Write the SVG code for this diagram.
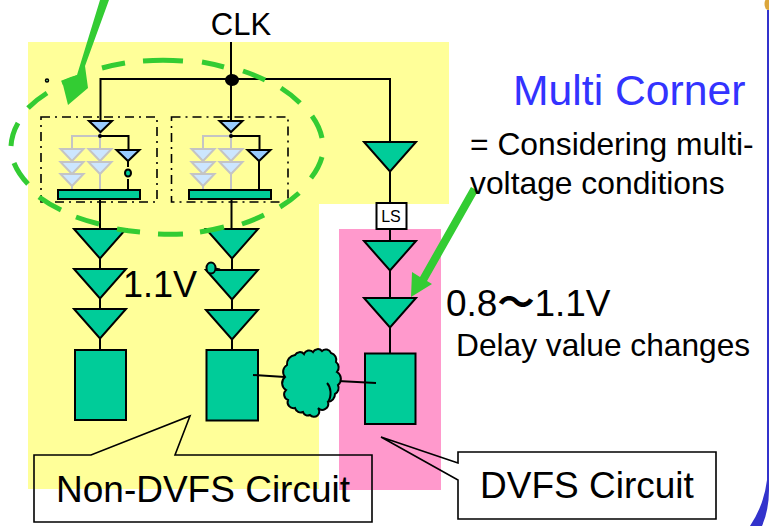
<svg xmlns="http://www.w3.org/2000/svg" width="769" height="526" viewBox="0 0 769 526">
<style>
text{font-family:"Liberation Sans","Noto Sans CJK JP",Arial,sans-serif;fill:#000}
.w{fill:none;stroke:#000;stroke-width:2}
.b{fill:#00cc99;stroke:#000;stroke-width:2;stroke-linejoin:miter}
.s{fill:#99ccff;stroke:#000;stroke-width:2}
.g{fill:#cce6ff;stroke:#c4c4c4;stroke-width:2}
.gw{fill:none;stroke:#c4c4c4;stroke-width:2}
.dd{fill:none;stroke:#000;stroke-width:1.6;stroke-dasharray:9 5 2 5}
.c{fill:none;stroke:#000;stroke-width:1.6}
.ga{fill:#33cc33;stroke:none}
</style>
<defs>
<polygon id="buf" points="-26,0 26,0 0,29.500" class="b"/>
<polygon id="sb" points="-11.500,0 11.500,0 0,11" class="s"/>
<polygon id="gb" points="-11.500,0 11.500,0 0,12" class="g"/>
</defs>
<rect x="0" y="0" width="769" height="526" fill="#fff"/>
<path id="bg-yellow" d="M28 42H449V204H319V489H28Z" fill="#ffff99"/>
<rect id="bg-pink" x="339" y="229" width="102" height="261" fill="#ff99cc"/>
<path id="slide-edge" d="M767 10V480Q764 505 750 526H762Q769 510 769 490V10Z" fill="#3333cc"/>
<ellipse id="slide-corner" cx="768" cy="4" rx="3.500" ry="6" fill="#dba63c"/>
<g id="gate-block-1">
<rect class="dd" x="41" y="117" width="116" height="85"/>
<path class="gw" d="M100 136H72V149M72 185V190M100 132V190"/>
<use href="#gb" x="72" y="149"/><use href="#gb" x="72" y="162"/><use href="#gb" x="72" y="174"/>
<use href="#gb" x="100" y="149"/><use href="#gb" x="100" y="162"/>
<path class="w" d="M100 136H128.500V150M128 161V167M128 179V190"/>
<use href="#sb" x="100.500" y="121"/>
<polygon class="s" points="116.500,150 139.500,150 128,161"/>
<circle cx="100" cy="136" r="2"/>
<ellipse cx="128" cy="173" rx="3" ry="3.500" fill="#00cc99" stroke="#000" stroke-width="2"/>
<rect class="b" x="58" y="190" width="82" height="9"/>
</g>
<g id="gate-block-2">
<rect class="dd" x="171.500" y="117" width="116.500" height="85"/>
<path class="gw" d="M231 136H203V149M203 185V190M231 132V190"/>
<use href="#gb" x="203" y="149"/><use href="#gb" x="203" y="162"/><use href="#gb" x="203" y="174"/>
<use href="#gb" x="231" y="149"/><use href="#gb" x="231" y="162"/>
<path class="w" d="M231 136H259.500V150M259 161V190"/>
<use href="#sb" x="231" y="121"/>
<polygon class="s" points="247.500,150 270.500,150 259,161"/>
<circle cx="231" cy="136" r="2"/>
<rect class="b" x="189" y="190" width="82" height="9"/>
</g>
<g id="col-1">
<use href="#buf" x="100" y="229"/><use href="#buf" x="100" y="269"/><use href="#buf" x="100" y="309"/>
<rect class="b" x="75" y="350" width="51" height="70"/>
</g>
<g id="col-2">
<use href="#buf" x="232" y="229"/><use href="#buf" x="232" y="270"/><use href="#buf" x="232" y="310"/>
<rect class="b" x="206.500" y="350" width="51.500" height="70.500"/>
<path class="w" d="M215 268.500L220 269.500"/>
<ellipse cx="211" cy="268" rx="4.500" ry="5.500" fill="#00cc99" stroke="#000" stroke-width="2"/>
</g>
<g id="col-3">
<use href="#buf" x="390" y="142"/>
<g id="level-shifter"><rect x="376.500" y="203" width="30" height="26" fill="#fff" stroke="#000" stroke-width="2"/><text x="391" y="222" font-size="16" text-anchor="middle">LS</text></g>
<use href="#buf" x="390" y="241"/><use href="#buf" x="390" y="298"/>
<rect class="b" x="365" y="353.500" width="50.500" height="70.500"/>
</g>
<g id="connectors">
<path class="w" d="M231 42V121M100.500 121V79H390V142M390 171V203M390 229V241M390 271V298M390 327V353"/>
<path class="w" d="M100 199V229M100 258V269M100 299V309M100 339V350M231.500 199V229M232 259V270M232 299V310M232 339V350"/>
<path class="w" d="M253 375L285 377M338 381L376 383"/>
</g>
<g id="rail"><ellipse cx="232" cy="80" rx="7" ry="6"/></g>
<g id="cloud">
<path d="M287 365A9 9 0 0 1 295 355A5.500 5.500 0 0 1 304 354A5.500 5.500 0 0 1 313 352A5.500 5.500 0 0 1 322 351A5.500 5.500 0 0 1 331 353A7 7 0 0 1 336 362A7 7 0 0 1 337 372A8 8 0 0 1 338 385A7 7 0 0 1 335 394A8 8 0 0 1 328 402A6 6 0 0 1 318 408A5 5 0 0 1 310 415A5 5 0 0 1 303 412A6 6 0 0 1 295 408A6 6 0 0 1 288 400A6 6 0 0 1 286 390A8 8 0 0 1 285 377A8 8 0 0 1 287 365Z" fill="#00cc99" stroke="#000" stroke-width="2"/>
<path d="M327 383C331 387 332 396 328 402" fill="none" stroke="#000" stroke-width="2"/>
</g>
<path id="dashed-ring" fill="none" stroke="#33cc33" stroke-width="5" d="M102 68A156 86 0 0 1 125 63M143 61A156 86 0 0 1 183 61M202 62A156 86 0 0 1 224 67M243 71A156 86 0 0 1 265 80M281 88A156 86 0 0 1 300 103M312 116A156 86 0 0 1 322 138M322 157A156 86 0 0 1 311 178M299 193A156 86 0 0 1 280 207M264 215A156 86 0 0 1 242 224M224 227A156 86 0 0 1 200 232M183 234A156 86 0 0 1 158 234M140 232A156 86 0 0 1 117 229M99 224A156 86 0 0 1 76 217M61 210A156 86 0 0 1 39 197M28 184A156 86 0 0 1 14 163M11 146A156 86 0 0 1 18 123M28 108A156 86 0 0 1 47 93M62 83A156 86 0 0 1 83 76"/>
<g id="green-arrows">
<path class="ga" d="M100 0H109L85 66L88 88L68 105L62 81L77 75Z"/>
<path class="ga" d="M471 187L478 191L427 281L432 284L411 297L412 272L420 277Z"/>
</g>
<circle id="dot" cx="47" cy="80.500" r="1.500" fill="#8fa" stroke="#000" stroke-width="1.500"/>
<g id="callout-non-dvfs">
<path class="c" d="M34 455H91L190 416L175 455H372V522H34Z"/>
<text x="56" y="502" font-size="37">Non-DVFS Circuit</text>
</g>
<g id="callout-dvfs">
<path class="c" d="M458 463L381 437L458 480V519H716V452H458Z"/>
<text x="480" y="498" font-size="37">DVFS Circuit</text>
</g>
<text x="241" y="35" font-size="31" text-anchor="middle">CLK</text>
<text x="513" y="105" font-size="42.700" style="fill:#3333ff">Multi Corner</text>
<text x="470" y="155" font-size="31.800">= Considering multi-</text>
<text x="470" y="194" font-size="31.800">voltage conditions</text>
<text x="123" y="297" font-size="36">1.1V</text>
<text x="446" y="316" font-size="37">0.8<tspan font-weight="bold">〜</tspan>1.1V</text>
<text x="456" y="356" font-size="31.700">Delay value changes</text>
</svg>
